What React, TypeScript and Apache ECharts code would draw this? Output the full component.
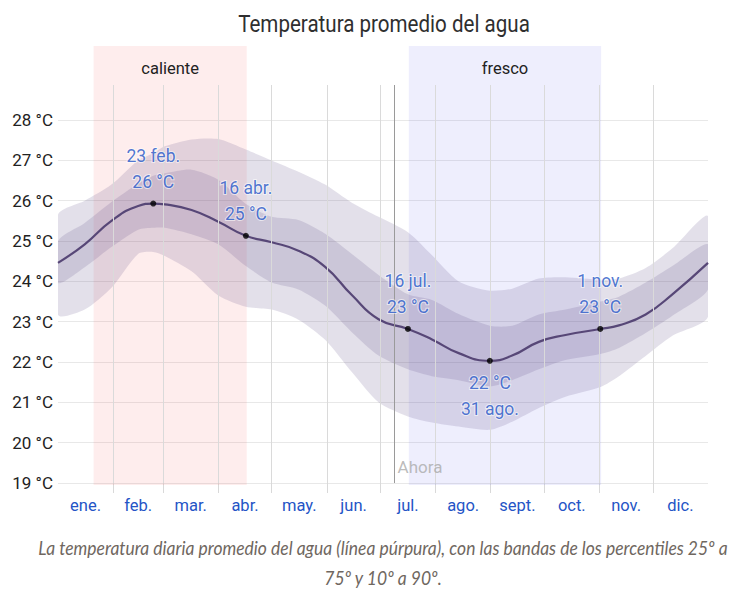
import React, { useEffect, useRef } from "react";
import * as echarts from "echarts";

// Day of year (0 = 1 Jan) at which values were read
const days = [0, 15, 30, 45, 53.5, 60, 75, 90, 105.5, 120, 135, 150, 165, 180, 196.5, 210, 225, 242.5, 255, 270, 285, 304.5, 315, 330, 345, 365];
// Mean daily water temperature (°C)
const meanTemp = [24.46, 24.92, 25.5, 25.87, 25.93, 25.91, 25.77, 25.48, 25.13, 24.97, 24.76, 24.36, 23.66, 23.06, 22.82, 22.56, 22.22, 22.03, 22.16, 22.5, 22.67, 22.82, 22.91, 23.18, 23.68, 24.46];
// Percentile bands
const p10 = [23.17, 23.3, 23.84, 24.68, 24.73, 24.63, 24.25, 23.65, 23.37, 23.3, 23.05, 22.55, 21.75, 21.0, 20.65, 20.5, 20.4, 20.32, 20.52, 20.86, 21.14, 21.38, 21.65, 22.15, 22.65, 23.12];
const p25 = [23.96, 24.35, 24.85, 25.28, 25.33, 25.33, 25.17, 24.92, 24.38, 23.97, 23.8, 23.4, 22.74, 22.16, 21.82, 21.65, 21.55, 21.4, 21.55, 21.82, 22.05, 22.2, 22.35, 22.72, 23.15, 23.8];
const p75 = [25.0, 25.45, 25.97, 26.42, 26.62, 26.68, 26.77, 26.52, 25.92, 25.6, 25.52, 25.18, 24.68, 24.16, 23.68, 23.54, 23.19, 22.9, 22.9, 23.18, 23.3, 23.5, 23.62, 23.97, 24.38, 24.92];
const p90 = [25.65, 26.0, 26.4, 27.0, 27.18, 27.35, 27.52, 27.53, 27.27, 27.0, 26.72, 26.4, 25.95, 25.6, 25.22, 24.65, 24.0, 23.77, 23.82, 24.07, 24.1, 24.04, 24.07, 24.33, 24.82, 25.62];

const monthNames = ["ene.", "feb.", "mar.", "abr.", "may.", "jun.", "jul.", "ago.", "sept.", "oct.", "nov.", "dic."];
const monthStarts = [0, 31, 59, 90, 120, 151, 181, 212, 243, 273, 304, 334, 365];

const seasons = [
  { name: "caliente", from: 20, to: 106, color: "rgba(245, 80, 80, 0.1)" },
  { name: "fresco", from: 197, to: 305, color: "rgba(90, 90, 240, 0.1)" },
];

const highlightDays = [53.5, 105.5, 196.5, 242.5, 304.5];
const highlightTemps = [25.93, 25.13, 22.82, 22.03, 22.82];
const highlightDates = ["23 feb.", "16 abr.", "16 jul.", "31 ago.", "1 nov."];
const highlightLabels = ["26 °C", "25 °C", "23 °C", "22 °C", "23 °C"];
const highlightBelow = [false, false, false, true, false];

const nowDay = 189;
const nowLabelTemp = 19.4;

const TITLE = "Temperatura promedio del agua";
const CAPTION1 = "La temperatura diaria promedio del agua (línea púrpura), con las bandas de los percentiles 25º a";
const CAPTION2 = "75º y 10º a 90º.";

const FONT = "Roboto, sans-serif";

export default function App() {
  const ref = useRef<HTMLDivElement>(null);
  useEffect(() => {
    if (!ref.current) return;
    const chart = echarts.init(ref.current, undefined, { renderer: "svg" });
    const monthCenters = monthNames.map((_, i) => (monthStarts[i] + monthStarts[i + 1]) / 2);
    const pairs = (arr: number[]) => days.map((d, i) => [d, arr[i]]);
    const blue = "#2454c6";
    const bandColor = "rgba(90, 70, 130, 0.17)";

    const bandSeries = (lo: number[], hi: number[], name: string) => ({
      name,
      type: "custom",
      coordinateSystem: "cartesian2d",
      silent: true,
      clip: true,
      z: 2,
      encode: { x: 0, y: [1, 2] },
      data: days.map((d, i) => [d, lo[i], hi[i]]),
      renderItem: (params: any, api: any) => {
        if (params.dataIndex !== 0) return null;
        const top = days.map((d, i) => api.coord([d, hi[i]]));
        const bottom = days.map((d, i) => api.coord([d, lo[i]])).reverse();
        return {
          type: "polygon",
          shape: { points: top.concat(bottom), smooth: 0.25 },
          style: { fill: bandColor },
        };
      },
    });

    const option: any = {
      animation: false,
      graphic: [
        {
          type: "text",
          x: 384,
          y: 24,
          scaleX: 0.84,
          style: {
            text: TITLE,
            fill: "#2f2f2f",
            fontSize: 24.5,
            fontWeight: "normal",
            fontFamily: FONT,
            align: "center",
            verticalAlign: "middle",
          },
        },
        {
          type: "text",
          x: 383,
          y: 563,
          scaleX: 0.92,
          style: {
            text: CAPTION1 + "\n" + CAPTION2,
            fill: "#6f675f",
            fontSize: 19,
            fontStyle: "italic",
            fontFamily: "Lato, sans-serif",
            lineHeight: 30,
            align: "center",
            verticalAlign: "middle",
          },
        },
      ],
      grid: [
        { left: 58, right: 23, top: 85, bottom: 109 },
        { left: 58, right: 23, top: 46, bottom: 107 },
      ],
      xAxis: [
        {
          type: "value",
          gridIndex: 0,
          min: 0,
          max: 365,
          axisLine: { show: false },
          splitLine: { show: false },
          axisTick: {
            show: true,
            customValues: monthStarts.slice(1, -1),
            length: 10,
            lineStyle: { color: "#d9d9d9" },
          },
          axisLabel: {
            customValues: monthCenters,
            formatter: (v: number) => {
              let best = 0;
              monthCenters.forEach((c, i) => {
                if (Math.abs(c - v) < Math.abs(monthCenters[best] - v)) best = i;
              });
              return monthNames[best];
            },
            color: blue,
            fontSize: 16.5,
            fontFamily: FONT,
            margin: 14,
          },
        },
        { type: "value", gridIndex: 1, min: 0, max: 365, show: false },
      ],
      yAxis: [
        {
          type: "value",
          gridIndex: 0,
          min: 19,
          max: 28.87,
          interval: 1,
          axisLine: { show: false },
          axisTick: { show: false },
          axisLabel: {
            formatter: (v: number) => (Number.isInteger(v) ? `${v} °C` : ""),
            color: "#222222",
            fontSize: 17,
            fontFamily: FONT,
            margin: 5,
            showMaxLabel: false,
          },
          splitLine: { show: true, showMaxLine: false, lineStyle: { color: "#e8e8e8", width: 1 } },
        },
        { type: "value", gridIndex: 1, min: 0, max: 1, show: false },
      ],
      series: [
        {
          type: "line",
          xAxisIndex: 1,
          yAxisIndex: 1,
          data: [],
          silent: true,
          z: 0,
          markArea: {
            silent: true,
            label: {
              show: true,
              position: "insideTop",
              distance: 14,
              color: "#222222",
              fontSize: 16.5,
              fontFamily: FONT,
            },
            data: seasons.map((s) => [
              { name: s.name, xAxis: s.from, itemStyle: { color: s.color } },
              { xAxis: s.to },
            ]),
          },
        },
        {
          type: "line",
          data: [],
          silent: true,
          z: 1,
          markLine: {
            silent: true,
            symbol: ["none", "none"],
            label: { show: false },
            data: [
              ...monthStarts.slice(1, -1).map((d) => ({
                xAxis: d,
                lineStyle: { color: "#dadada", width: 1, type: "solid" },
              })),
              { xAxis: nowDay, lineStyle: { color: "#9a9a9a", width: 1, type: "solid" } },
            ],
          },
        },
        bandSeries(p10, p90, "percentil 10-90"),
        bandSeries(p25, p75, "percentil 25-75"),
        {
          name: "media",
          type: "line",
          data: pairs(meanTemp),
          smooth: 0.5,
          showSymbol: false,
          silent: true,
          lineStyle: { color: "#574777", width: 2.2 },
          z: 3,
        },
        {
          type: "scatter",
          silent: true,
          z: 5,
          symbolSize: 6,
          itemStyle: { color: "#000000" },
          data: highlightDays.map((d, i) => ({
            value: [d, highlightTemps[i]],
            label: {
              show: true,
              position: highlightBelow[i] ? "bottom" : "top",
              distance: 6,
              formatter: highlightBelow[i]
                ? `${highlightLabels[i]}\n${highlightDates[i]}`
                : `${highlightDates[i]}\n${highlightLabels[i]}`,
              color: blue,
              fontSize: 17.5,
              lineHeight: 26,
              fontFamily: FONT,
              textBorderColor: "rgba(255,255,255,0.7)",
              textBorderWidth: 2,
            },
          })),
        },
        {
          type: "scatter",
          silent: true,
          z: 5,
          symbolSize: 0,
          data: [[nowDay, nowLabelTemp]],
          label: {
            show: true,
            position: "right",
            distance: 3,
            formatter: "Ahora",
            color: "#aaaaaa",
            fontSize: 17,
            fontFamily: FONT,
          },
        },
      ],
    };
    chart.setOption(option);
    return () => chart.dispose();
  }, []);
  return (
    <div
      ref={ref}
      style={{ position: "absolute", left: 0, top: 0, width: 731, height: 592, background: "#ffffff" }}
    />
  );
}
